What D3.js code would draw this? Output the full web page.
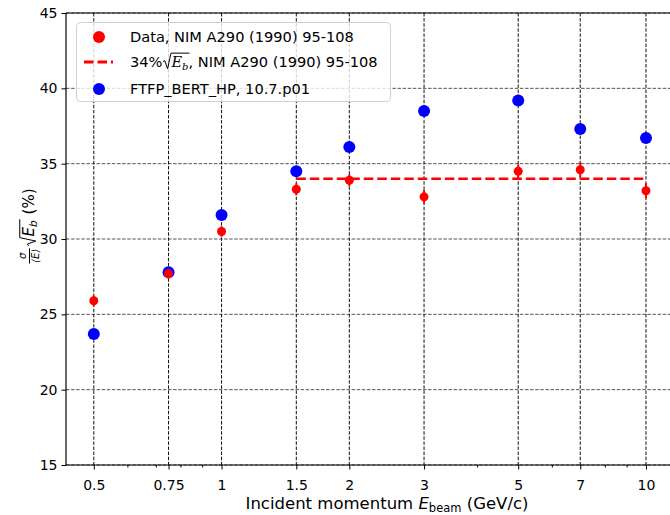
<!DOCTYPE html>
<html lang="en">
<head>
<meta charset="utf-8">
<title>Resolution vs momentum</title>
<script src="https://d3js.org/d3.v7.min.js"></script>
<style>
  body { margin: 0; background: white; }
  text { font-family: "DejaVu Sans", sans-serif; fill: black; white-space: pre; }
</style>
</head>
<body>
<script>
// data
const momenta   = [0.5, 0.75, 1, 1.5, 2, 3, 5, 7, 10];
const dataRes   = [25.9, 27.7, 30.5, 33.3, 33.9, 32.8, 34.5, 34.6, 33.2];
const dataErr   = [0.35, 0.35, 0.35, 0.4, 0.4, 0.45, 0.45, 0.5, 0.5];
const simRes    = [23.7, 27.8, 31.6, 34.5, 36.1, 38.5, 39.2, 37.3, 36.7];
const fitValue  = 34;
const fitRange  = [1.5, 10];
const yTicks    = [15, 20, 25, 30, 35, 40, 45];
const xTicks    = [0.5, 0.75, 1, 1.5, 2, 3, 5, 7, 10];
const xTickText = ["0.5", "0.75", "1", "1.5", "2", "3", "5", "7", "10"];
const xMinor    = [0.6, 0.7, 0.8, 0.9, 4, 6, 8, 9];

const W = 670, H = 515;
const plot = {left: 66, right: 708, top: 13, bottom: 465};

const x = d3.scaleLog().domain([0.43, 14]).range([plot.left, plot.right]);
const y = d3.scaleLinear().domain([15, 45]).range([plot.bottom, plot.top]);

const svg = d3.select("body").append("svg")
    .attr("width", W).attr("height", H);

// grid
svg.append("g").selectAll("line").data(yTicks).enter().append("line")
    .attr("x1", plot.left).attr("x2", plot.right)
    .attr("y1", d => y(d)).attr("y2", d => y(d))
    .attr("stroke", "#555").attr("stroke-width", 1)
    .attr("stroke-dasharray", "3.5,1.6");
svg.append("g").selectAll("line").data(xTicks).enter().append("line")
    .attr("x1", d => x(d)).attr("x2", d => x(d))
    .attr("y1", plot.top).attr("y2", plot.bottom)
    .attr("stroke", "#111").attr("stroke-width", 1)
    .attr("stroke-dasharray", "3.5,1.6");

// spines
svg.append("line").attr("x1", plot.left).attr("x2", plot.left)
    .attr("y1", plot.top).attr("y2", plot.bottom).attr("stroke", "black").attr("stroke-width", 1.2);
svg.append("line").attr("x1", plot.left).attr("x2", plot.right)
    .attr("y1", plot.bottom).attr("y2", plot.bottom).attr("stroke", "black").attr("stroke-width", 1.2);
svg.append("line").attr("x1", plot.left).attr("x2", plot.right)
    .attr("y1", plot.top).attr("y2", plot.top).attr("stroke", "black").attr("stroke-width", 1.2);

// y axis
const yAxis = svg.append("g").attr("transform", "translate(" + plot.left + ",0)")
    .call(d3.axisLeft(y).tickValues(yTicks).tickSize(4.5).tickPadding(4));
yAxis.select(".domain").remove();
yAxis.selectAll("text").style("font-size", "14px").style("font-family", "DejaVu Sans");

// x axis, major and minor
const xAxis = svg.append("g").attr("transform", "translate(0," + plot.bottom + ")")
    .call(d3.axisBottom(x).tickValues(xTicks).tickFormat((d, i) => xTickText[i]).tickSize(4.5).tickPadding(10.5));
xAxis.select(".domain").remove();
xAxis.selectAll("text").style("font-size", "14px").style("font-family", "DejaVu Sans");
const xMinorAxis = svg.append("g").attr("transform", "translate(0," + plot.bottom + ")")
    .call(d3.axisBottom(x).tickValues(xMinor).tickFormat("").tickSize(2.5));
xMinorAxis.select(".domain").remove();

// draws a row of text pieces one after another, returns end x
function mathRow(g, x0, y0, parts, base) {
  let cx = x0;
  parts.forEach(p => {
    if (p.sqrt) {
      p.x0 = cx;
      cx += p.w;
      return;
    }
    const t = g.append("text")
        .attr("x", cx).attr("y", y0 + (p.dy || 0))
        .style("font-size", (p.size || base) + "px")
        .style("font-style", p.italic ? "italic" : "normal")
        .text(p.t);
    if (p.serif) t.style("font-family", "DejaVu Serif");
    p.x0 = cx;
    cx += t.node().getComputedTextLength() + (p.gap || 0);
    p.x1 = cx;
  });
  return cx;
}
function radical(g, xs, xe, y0, s) {
  const p = d3.path();
  p.moveTo(xs, y0 - 0.36 * s);
  p.lineTo(xs + 0.12 * s, y0 - 0.44 * s);
  p.lineTo(xs + 0.32 * s, y0 + 0.12 * s);
  p.lineTo(xs + 0.55 * s, y0 - 0.95 * s);
  p.lineTo(xe, y0 - 0.95 * s);
  g.append("path").attr("d", p.toString()).attr("fill", "none")
      .attr("stroke", "black").attr("stroke-width", 1);
}

// fit line
svg.append("line")
    .attr("x1", x(fitRange[0])).attr("x2", x(fitRange[1]))
    .attr("y1", y(fitValue)).attr("y2", y(fitValue))
    .attr("stroke", "#ff0000").attr("stroke-width", 2.6)
    .attr("stroke-dasharray", "9.5,4");

// simulation
svg.append("g").selectAll("circle").data(momenta).enter().append("circle")
    .attr("cx", d => x(d)).attr("cy", (d, i) => y(simRes[i]))
    .attr("r", 6).attr("fill", "#0000ff");

// data with error bars
svg.append("g").selectAll("line").data(momenta).enter().append("line")
    .attr("x1", d => x(d)).attr("x2", d => x(d))
    .attr("y1", (d, i) => y(dataRes[i] - dataErr[i]))
    .attr("y2", (d, i) => y(dataRes[i] + dataErr[i]))
    .attr("stroke", "#ff0000").attr("stroke-width", 2);
svg.append("g").selectAll("circle").data(momenta).enter().append("circle")
    .attr("cx", d => x(d)).attr("cy", (d, i) => y(dataRes[i]))
    .attr("r", 4.5).attr("fill", "#ff0000");

// legend
const lg = svg.append("g");
lg.append("rect").attr("x", 76.5).attr("y", 22.5).attr("width", 314).attr("height", 79)
    .attr("rx", 4).attr("fill", "white").attr("fill-opacity", 0.8)
    .attr("stroke", "#d0d0d0").attr("stroke-width", 1);
lg.append("circle").attr("cx", 99).attr("cy", 37).attr("r", 6).attr("fill", "#ff0000");
lg.append("line").attr("x1", 84).attr("x2", 113).attr("y1", 62).attr("y2", 62)
    .attr("stroke", "#ff0000").attr("stroke-width", 2.8).attr("stroke-dasharray", "9.5,4");
lg.append("circle").attr("cx", 99).attr("cy", 89).attr("r", 6).attr("fill", "#0000ff");
lg.append("text").attr("x", 130).attr("y", 42).style("font-size", "14.6px")
    .text("Data, NIM A290 (1990) 95-108");
const lp = [
  {t: "34%"},
  {sqrt: true, w: 9},
  {t: "E", italic: true, serif: true},
  {t: "b", italic: true, serif: true, size: 10, dy: 3},
  {t: ", NIM A290 (1990) 95-108"}
];
mathRow(lg, 130, 67, lp, 14.6);
radical(lg, lp[1].x0 + 0.5, lp[3].x1 + 1, 67, 14.6);
lg.append("text").attr("x", 130).attr("y", 94).style("font-size", "14.6px")
    .text("FTFP_BERT_HP, 10.7.p01");

// x title
const xt = svg.append("g");
const xp = [
  {t: "Incident momentum "},
  {t: "E", italic: true},
  {t: "beam", size: 11.5, dy: 3},
  {t: " (GeV/c)"}
];
const xEnd = mathRow(xt, 0, 509, xp, 16.5);
xt.attr("transform", "translate(" + ((plot.left + plot.right) / 2 - xEnd / 2) + ",0)");

// y title: sigma/<E> sqrt(E_b) (%)
const yt = svg.append("g");
const fr = yt.append("g");
const sig = fr.append("text").attr("y", -8).style("font-size", "10px").style("font-style", "italic").text("σ");
const avg = fr.append("text").attr("y", 5).style("font-size", "10px").style("font-style", "italic").text("⟨E⟩");
const fw = Math.max(sig.node().getComputedTextLength(), avg.node().getComputedTextLength()) + 1;
sig.attr("x", (fw - sig.node().getComputedTextLength()) / 2);
avg.attr("x", (fw - avg.node().getComputedTextLength()) / 2);
fr.append("line").attr("x1", 0).attr("x2", fw).attr("y1", -4.5).attr("y2", -4.5)
    .attr("stroke", "black").attr("stroke-width", 1);
const yp = [
  {sqrt: true, w: 10},
  {t: "E", italic: true},
  {t: "b", italic: true, size: 10.5, dy: 3, gap: 1},
  {t: " (%)"}
];
const yEnd = mathRow(yt, fw + 2, 0, yp, 15);
radical(yt, yp[0].x0 + 0.5, yp[2].x1, 0, 15);
yt.attr("transform", "translate(34," + (226 + yEnd / 2) + ") rotate(-90)");
</script>
</body>
</html>
